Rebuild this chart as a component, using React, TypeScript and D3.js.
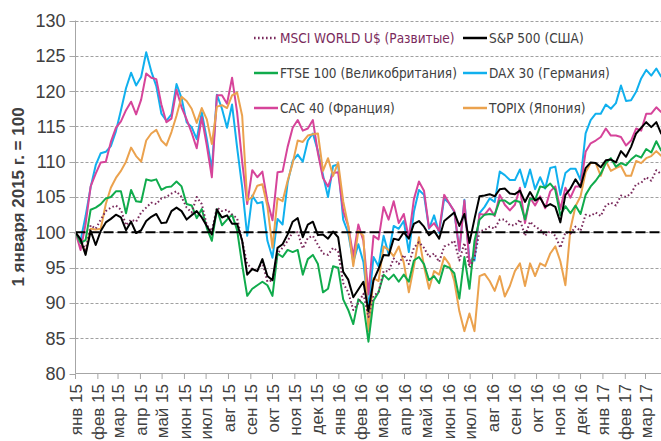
import React from "react"
import * as d3 from "d3"

// weekly values, 1 Jan 2015 = 100
const msci = [
  100, 99.0, 97.5, 101.0, 100.5, 101.8, 103.0, 103.5, 103.8, 103.2, 101.0, 101.8, 101.5, 102.8, 103.5, 104.2,
  104.0, 104.8, 105.0, 105.5, 105.8, 105.0, 103.5, 102.8, 105.0, 104.0, 101.0, 100.2, 103.5, 103.0, 103.2, 102.5,
  102.0, 98.8, 95.5, 94.8, 94.5, 95.8, 93.0, 93.2, 97.0, 97.8, 98.8, 100.0, 100.0, 97.7, 99.2, 99.5,
  98.2, 97.0, 96.8, 97.8, 97.3, 92.8, 91.5, 89.0, 90.0, 91.3, 88.0, 91.0, 91.5, 94.5, 94.5, 96.3,
  95.5, 96.8, 95.5, 97.8, 98.6, 97.8, 96.5, 97.0, 95.8, 98.0, 98.3, 98.8, 96.0, 98.5, 95.0, 96.3,
  100.2, 100.3, 100.8, 100.5, 101.8, 101.8, 101.0, 101.0, 101.8, 99.5, 101.5, 100.8, 100.4, 99.5, 100.2, 99.5,
  97.8, 100.0, 99.8, 100.8, 100.2, 102.5, 102.3, 102.8, 102.3, 103.8, 104.2, 103.8, 105.2, 105.0, 105.5, 106.8,
  107.0, 107.8, 107.3, 108.8, 108.2,
]
const spx = [
  100, 99.0, 96.8, 100.2, 98.2, 100.2, 101.4, 101.9, 102.5, 102.1, 100.3, 101.5, 99.9, 100.3, 101.6, 102.2,
  102.6, 101.3, 101.4, 103.0, 103.5, 103.0, 101.8, 102.4, 103.0, 102.1, 100.9, 99.7, 103.2, 102.1, 102.4, 101.2,
  101.2, 98.8, 94.0, 94.8, 94.5, 96.2, 93.8, 93.2, 97.8, 98.3, 99.7, 101.5, 102.0, 99.3, 101.1, 101.5,
  99.6, 99.7, 99.1, 100.1, 99.3, 94.4, 93.3, 90.8, 91.9, 93.0, 88.8, 93.2, 94.8, 96.8, 96.7, 99.1,
  98.9, 100.0, 99.1, 101.2, 101.6, 100.8, 99.6, 100.2, 99.1, 101.6, 102.2, 102.8, 100.9, 102.6, 98.5, 101.9,
  105.1, 105.2, 105.4, 105.1, 106.1, 106.2, 105.5, 105.4, 105.9, 104.3, 105.7, 104.5, 104.9, 103.6, 104.0, 103.6,
  101.4, 105.3, 106.2, 107.5, 106.4, 109.1, 109.9, 109.8, 109.2, 110.2, 110.3, 109.9, 111.5, 110.7, 112.1, 114.0,
  114.8, 115.6, 114.9, 115.6, 113.9,
]
const ftse = [
  100, 98.5, 98.9, 103.2, 103.5, 104.0, 104.8, 105.0, 105.8, 105.8, 102.7, 106.0, 104.4, 104.3, 107.5, 107.3,
  107.5, 106.0, 106.4, 106.5, 107.2, 106.5, 104.0, 103.8, 102.0, 103.3, 100.6, 98.8, 103.3, 101.0, 101.8, 102.5,
  100.3, 95.4, 91.0, 92.0, 92.5, 93.0, 92.5, 91.0, 97.0, 96.5, 97.5, 97.2, 97.5, 94.0, 96.2, 96.8,
  95.5, 91.5, 92.0, 95.2, 95.0, 90.5, 89.0, 87.0, 90.5, 89.8, 84.5, 90.3, 91.5, 94.0, 93.3, 94.0,
  93.0, 94.0, 93.0, 96.0, 96.5, 95.5, 93.2, 93.8, 92.8, 95.3, 95.0, 94.2, 90.6, 96.5, 92.0, 98.8,
  101.8, 102.5, 102.6, 102.5, 104.5, 104.5, 104.0, 104.5, 104.3, 101.8, 104.8, 104.6, 106.5, 106.3, 106.9, 106.0,
  102.4, 103.7, 102.7, 103.8, 102.6, 105.3, 106.5, 107.3, 108.3, 109.8, 110.5, 109.3, 109.8, 109.5, 110.3, 110.9,
  110.6, 111.8, 111.3, 112.9, 111.5,
]
const dax = [
  100, 98.8, 102.3, 106.4, 109.5, 111.2, 111.4, 112.2, 114.3, 117.3, 120.4, 122.6, 120.8, 122.0, 125.5, 122.8,
  120.7, 116.8, 115.8, 116.7, 121.0, 119.0, 115.6, 114.9, 113.2, 117.0, 113.2, 108.9, 119.5, 117.5, 114.8, 118.1,
  112.0, 106.4, 99.5, 105.2, 104.1, 104.3, 98.8, 96.4, 101.9, 101.1, 107.0, 110.1, 111.0, 110.0, 113.0, 114.0,
  111.5, 108.1, 105.0, 109.4, 109.6, 101.8, 99.9, 95.8, 98.3, 95.8, 89.3, 96.5, 95.2, 99.5, 96.9, 100.9,
  100.5, 101.6, 97.2, 102.9, 106.0, 105.3, 100.5, 102.4, 99.9, 104.8, 104.1, 102.9, 97.4, 104.6, 96.0, 96.0,
  102.7, 103.6, 104.8, 104.3, 108.6, 108.1, 107.4, 107.4, 108.9, 106.4, 108.9, 106.1, 107.8, 106.2, 109.1, 109.3,
  105.3, 108.4, 109.0, 109.0, 107.4, 114.0, 115.9, 116.8, 116.8, 118.1, 117.5, 118.3, 120.8, 118.6, 118.7, 119.9,
  121.8, 123.0, 122.2, 123.2, 122.0,
]
const cac = [
  100, 97.5, 101.2, 106.5, 108.3, 109.9, 110.0, 112.8, 114.8, 115.7, 117.3, 118.5, 116.7, 118.8, 122.5, 121.9,
  121.7, 118.1, 115.6, 116.1, 120.2, 117.7, 116.0, 114.1, 111.9, 116.3, 112.3, 107.8, 119.4, 119.4, 118.2, 121.9,
  117.0, 110.0, 104.0, 108.8, 107.8, 108.6, 104.4, 101.7, 108.5, 108.6, 112.1, 114.8, 115.9, 114.4, 114.7, 115.9,
  111.2, 107.7, 106.5, 108.4, 108.5, 103.0, 100.9, 96.6, 101.1, 98.8, 91.2, 99.5, 99.0, 103.6, 101.8, 104.4,
  101.3, 102.6, 99.2, 104.7, 107.2, 105.9, 100.6, 101.3, 100.2, 105.3, 104.1, 103.0, 97.4, 104.5, 95.5, 96.9,
  102.6, 102.5, 103.4, 102.3, 105.3, 103.9, 103.1, 103.9, 106.3, 101.3, 104.9, 103.8, 105.1, 103.4, 105.8, 106.5,
  103.3, 106.3, 104.9, 106.5, 106.5, 111.4, 112.6, 113.0, 113.5, 114.7, 113.7, 113.7, 113.5, 112.3, 113.0, 114.7,
  114.4, 116.8, 116.8, 117.7, 117.0,
]
const topix = [
  100, 98.8, 97.0, 100.5, 100.4, 100.5, 104.0, 106.3, 107.7, 108.7, 110.0, 112.0, 110.8, 110.0, 113.0, 114.0,
  114.5, 113.0, 112.3, 114.2, 116.5, 119.2, 118.6, 117.5, 115.5, 117.6, 116.0, 112.5, 117.8, 118.0, 117.6, 119.4,
  119.8, 116.5, 104.5, 105.0, 106.6, 106.8, 103.7, 97.8, 104.8, 104.4, 107.3, 109.8, 113.0, 112.8, 113.7, 113.9,
  114.0, 108.7, 110.5, 108.0, 109.9, 104.4, 100.9, 95.2, 100.2, 99.5, 86.0, 93.5, 93.1, 98.0, 97.5, 96.6,
  98.0, 95.7, 91.5, 95.2, 99.3, 95.2, 92.0, 94.5, 94.0, 96.5, 95.5, 93.1, 88.8, 86.0, 88.5, 86.0,
  93.8, 94.1, 93.1, 91.7, 93.8, 90.9, 92.4, 94.5, 95.6, 92.4, 95.6, 93.8, 95.6, 95.2, 97.0, 98.0,
  95.9, 92.5, 100.5, 103.7, 105.1, 108.5, 109.8, 109.8, 108.0, 110.1, 108.7, 109.1, 109.4, 108.0, 108.0, 110.1,
  109.8, 110.5, 110.8, 111.5, 110.8,
]

const monthNames = ["янв", "фев", "мар", "апр", "май", "июн", "июл", "авг", "сен", "окт", "ноя", "дек"]
const yTicks = [80, 85, 90, 95, 100, 105, 110, 115, 120, 125, 130]

const series = [
  { name: "MSCI WORLD U$ (Развитые)", values: msci, color: "#7a2a5c", dash: "1.6,2.4", text: "#7a2a5c" },
  { name: "S&P 500 (США)", values: spx, color: "#000000", dash: null, text: "#404040" },
  { name: "FTSE 100 (Великобритания)", values: ftse, color: "#10ab4c", dash: null, text: "#404040" },
  { name: "DAX 30 (Германия)", values: dax, color: "#10b0ee", dash: null, text: "#404040" },
  { name: "CAC 40 (Франция)", values: cac, color: "#d6449a", dash: null, text: "#404040" },
  { name: "TOPIX (Япония)", values: topix, color: "#eba24e", dash: null, text: "#404040" },
]
// drawing order, bottom first
const drawOrder = [3, 4, 5, 2, 0, 1]

const W = 661
const H = 441
const left = 75.5

export default function App() {
  const start = new Date(2015, 0, 1)
  const dates = spx.map((_, i) => d3.timeDay.offset(start, 7 * i))

  const x = d3.scaleTime().domain([start, new Date(2017, 2, 1)]).range([left, 645.5])
  const y = d3.scaleLinear().domain([80, 130]).range([373.5, 20.5])

  const line = d3
    .line<number>()
    .x((_, i) => x(dates[i]))
    .y((d) => y(d))

  const months = d3.timeMonth.range(start, new Date(2017, 2, 2))
  const axisColor = "#a6a6a6"

  return (
    <svg width={W} height={H} style={{ position: "absolute", left: 0, top: 0 }}>
      <rect width={W} height={H} fill="#fff" />
      {yTicks.slice(1).map((t) => (
        <line
          key={"g" + t}
          x1={left}
          x2={W}
          y1={Math.round(y(t)) + 0.5}
          y2={Math.round(y(t)) + 0.5}
          stroke="#a0a0a0"
          strokeDasharray="3,2"
        />
      ))}
      {drawOrder.map((k) => (
        <path
          key={series[k].name}
          d={line(series[k].values) || ""}
          fill="none"
          stroke={series[k].color}
          strokeWidth={2}
          strokeDasharray={series[k].dash || undefined}
          strokeLinejoin="round"
        />
      ))}
      <line x1={left} x2={W} y1={y(100)} y2={y(100)} stroke="#000" strokeWidth={2} strokeDasharray="10,4" />

      {/* y axis */}
      <line x1={left} x2={left} y1={y(130)} y2={y(80)} stroke={axisColor} />
      {yTicks.map((t) => (
        <g key={"y" + t}>
          <line x1={left - 6} x2={left} y1={Math.round(y(t)) + 0.5} y2={Math.round(y(t)) + 0.5} stroke={axisColor} />
          <text
            x={left - 10}
            y={y(t)}
            dy="0.36em"
            textAnchor="end"
            fontFamily="Liberation Sans, Arial, sans-serif"
            fontSize={18}
            fill="#404040"
          >
            {t}
          </text>
        </g>
      ))}
      <text
        transform={`translate(24,197) rotate(-90)`}
        textAnchor="middle"
        fontFamily="Liberation Sans, Arial, sans-serif"
        fontWeight="bold"
        fontSize={17}
        fill="#404040"
      >
        1 января 2015 г. = 100
      </text>

      {/* x axis */}
      <line x1={left} x2={W} y1={373.5} y2={373.5} stroke={axisColor} />
      {months.map((m) => (
        <g key={"m" + m.getTime()}>
          <line x1={x(m)} x2={x(m)} y1={373.5} y2={379} stroke={axisColor} />
          <text
            transform={`translate(${x(m)},384) rotate(-90)`}
            textAnchor="end"
            dy="0.36em"
            fontFamily="Liberation Sans, Arial, sans-serif"
            fontSize={17}
            fill="#404040"
          >
            {monthNames[m.getMonth()] + " " + String(m.getFullYear()).slice(2)}
          </text>
        </g>
      ))}

      {/* legend */}
      {series.map((s, i) => {
        const lx = i % 2 === 0 ? 254 : 463
        const ly = 38 + Math.floor(i / 2) * 35
        return (
          <g key={"l" + s.name}>
            <line
              x1={lx}
              x2={lx + 24}
              y1={ly}
              y2={ly}
              stroke={s.color}
              strokeWidth={2.5}
              strokeDasharray={s.dash || undefined}
            />
            <text
              x={lx + 26}
              y={ly}
              dy="0.36em"
              fontFamily="DejaVu Sans Condensed, DejaVu Sans, sans-serif"
              fontSize={13.5}
              fill={s.text}
            >
              {s.name}
            </text>
          </g>
        )
      })}
    </svg>
  )
}
